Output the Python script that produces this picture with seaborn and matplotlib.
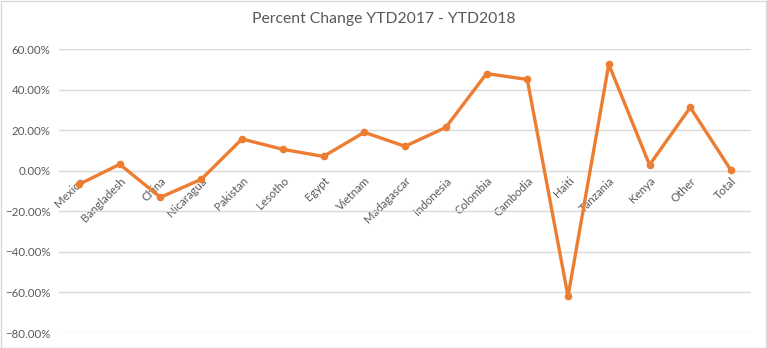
import matplotlib
matplotlib.use("Agg")
import matplotlib.pyplot as plt
from matplotlib.ticker import PercentFormatter, FixedLocator
from matplotlib.patches import Rectangle
import seaborn as sns
import pandas as pd

countries = ["Mexico", "Bangladesh", "China", "Nicaragua", "Pakistan", "Lesotho",
             "Egypt", "Vietnam", "Madagascar", "Indonesia", "Colombia", "Cambodia",
             "Haiti", "Tanzania", "Kenya", "Other", "Total"]
pct_change = [-0.066, 0.033, -0.130, -0.041, 0.158, 0.107,
              0.072, 0.191, 0.122, 0.215, 0.481, 0.452,
              -0.619, 0.527, 0.030, 0.314, 0.003]
y_ticks = [-0.8, -0.6, -0.4, -0.2, 0.0, 0.2, 0.4, 0.6]

sns.set_theme(style="white")
plt.rcParams["font.family"] = ["Lato", "DejaVu Sans"]

df = pd.DataFrame({"country": countries, "change": pct_change})

fig = plt.figure(figsize=(7.67, 3.48), dpi=100)
ax = fig.add_axes([0.0764, 0.0431, 0.9033, 0.8147])

sns.lineplot(data=df, x="country", y="change", sort=False, ax=ax,
             color="#ED7D31", linewidth=2.4, marker="o", markersize=5.5,
             markeredgewidth=0)

ax.set_ylim(-0.8, 0.6)
ax.set_xlim(-0.5, len(countries) - 0.5)
ax.yaxis.set_major_locator(FixedLocator(y_ticks))
ax.yaxis.set_major_formatter(PercentFormatter(1.0, decimals=2))
ax.grid(axis="y", color="#D9D9D9", linewidth=1.0)
ax.set_axisbelow(True)
for s in ax.spines.values():
    s.set_visible(False)
ax.spines["bottom"].set_position(("data", 0))

ax.set_xlabel("")
ax.set_ylabel("")
ax.tick_params(axis="y", length=0, pad=6, labelsize=8.3, labelcolor="#595959")
ax.tick_params(axis="x", length=0, pad=3, labelsize=8.3, labelcolor="#595959")
for lbl in ax.get_xticklabels():
    lbl.set_rotation(45)
    lbl.set_ha("right")
    lbl.set_va("top")
    lbl.set_rotation_mode("anchor")

fig.text(0.5, 0.945, "Percent Change YTD2017 - YTD2018", ha="center", va="center",
         fontsize=11.3, color="#595959")

fig.patches.append(Rectangle((0.5 / 767, 0.5 / 348), 1 - 1.5 / 767, 1 - 1.5 / 348,
                             transform=fig.transFigure, fill=False,
                             edgecolor="#D9D9D9", linewidth=1))

fig.savefig("out.png", dpi=100)
